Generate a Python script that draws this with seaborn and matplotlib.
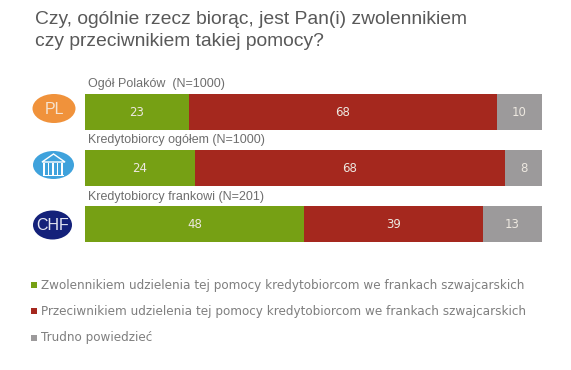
import numpy as np
import pandas as pd
import seaborn as sns
import matplotlib.pyplot as plt
from matplotlib.patches import Ellipse, Rectangle, Polygon

title_lines = ["Czy, ogólnie rzecz biorąc, jest Pan(i) zwolennikiem", "czy przeciwnikiem takiej pomocy?"]
groups = ["Ogół Polaków  (N=1000)", "Kredytobiorcy ogółem (N=1000)", "Kredytobiorcy frankowi (N=201)"]
zwolennicy = [23, 24, 48]
przeciwnicy = [68, 68, 39]
trudno = [10, 8, 13]
series_names = ["Zwolennikiem udzielenia tej pomocy kredytobiorcom we frankach szwajcarskich",
                "Przeciwnikiem udzielenia tej pomocy kredytobiorcom we frankach szwajcarskich",
                "Trudno powiedzieć"]
colors = ["#76A014", "#A5281E", "#9C9A9B"]

sns.set_style("white")
plt.rcParams['font.family'] = ['Liberation Sans', 'DejaVu Sans']
fig = plt.figure(figsize=(5.71, 3.70), dpi=100)

# bars are 100% stacked, so row 1 (sums to 101) gets scaled a little
df = pd.DataFrame({'group': groups, 'a': zwolennicy, 'b': przeciwnicy, 'c': trudno})
total = df[['a', 'b', 'c']].sum(axis=1)
ax = fig.add_axes([85/571, (370-252)/370, 457/571, 168/370])
left = np.zeros(len(df))
for col, color in zip(['a', 'b', 'c'], colors):
    share = df[col] / total * 100
    sns.barplot(x=share, y=df['group'], left=left, color=color, saturation=1,
                width=0.643, orient='h', linewidth=0, ax=ax)
    for i, (val, s) in enumerate(zip(df[col], share)):
        ax.text(left[i] + s/2, i, str(val), ha='center', va='center', color='#EDE8E0',
                fontsize=8.5, family='DejaVu Sans')
    left = left + share.values
ax.set_xlim(0, 100)
ax.set_ylim(2.5, -0.5)
ax.axis('off')

# overlay in pixels for text, icons and legend
ov = fig.add_axes([0, 0, 1, 1], facecolor='none')
ov.set_xlim(0, 571)
ov.set_ylim(370, 0)
ov.axis('off')

for y, line in zip([19, 42], title_lines):
    ov.text(35, y, line, fontsize=13.85, color='#595959', va='center')
for y, g in zip([84, 140, 197], groups):
    ov.text(88, y, g, fontsize=9, color='#6E6E6E', va='center')

# icons
ov.add_patch(Ellipse((54, 108.5), 43, 29, color='#F0923B', lw=0))
ov.text(54, 109, 'PL', fontsize=11.5, color='#F6E3CF', ha='center', va='center')
ov.add_patch(Ellipse((53.5, 165), 41, 28, color='#3FA2DC', lw=0))
ov.add_patch(Polygon([[42, 162], [53.5, 154], [65, 162]], closed=True, fc='none', ec='white', lw=1))
for x in [44, 48.5, 53, 57.5, 62]:
    ov.add_patch(Rectangle((x-0.6, 163), 1.4, 12, color='white', lw=0))
ov.add_patch(Rectangle((43, 175), 21, 1.2, color='white', lw=0))
ov.add_patch(Ellipse((52.5, 225), 39, 29, color='#14217A', lw=0))
ov.text(52.5, 226, 'CHF', fontsize=11.5, color='#E4E6F2', ha='center', va='center')

# legend
for y, name, color in zip([285, 311, 338], series_names, colors):
    ov.add_patch(Rectangle((31, y-3), 6, 6, color=color, lw=0))
    ov.text(41, y, name, fontsize=8.62, color='#7F7F7F', va='center', family='DejaVu Sans')

fig.savefig('out.png', dpi=100)
